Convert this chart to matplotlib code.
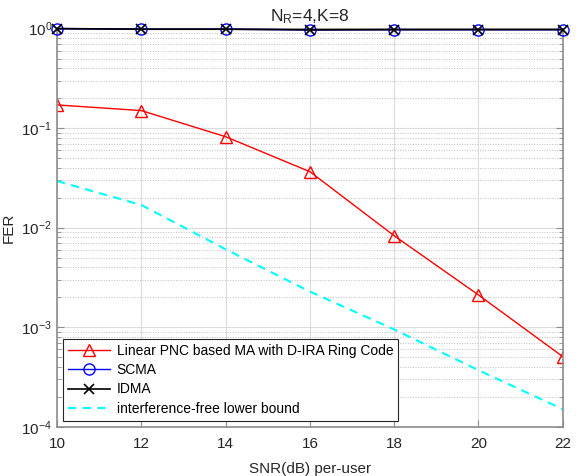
import matplotlib
matplotlib.use("Agg")
import matplotlib.pyplot as plt
from matplotlib.ticker import LogLocator, NullFormatter

plt.rcParams["font.family"] = ["Liberation Sans", "DejaVu Sans"]
plt.rcParams["mathtext.default"] = "regular"

# SNR per user (dB)
snr = [10, 12, 14, 16, 18, 20, 22]

# frame error rates
fer_pnc = [0.171, 0.150, 0.082, 0.0365, 0.0083, 0.00211, 0.000507]
fer_scma = [1.0, 0.985, 0.985, 0.97, 0.975, 0.975, 0.975]
fer_idma = [1.0, 0.985, 0.985, 0.97, 0.975, 0.975, 0.975]
fer_bound = [0.0294, 0.0169, 0.00607, 0.00228, 0.00095, 0.00037, 0.00015]

fig = plt.figure(figsize=(5.76, 4.76), dpi=100)
ax = fig.add_axes([0.099, 0.1034, 0.878, 0.8366])

ax.semilogy(snr, fer_pnc, color="red", marker="^", markersize=9, markerfacecolor="none",
            markeredgewidth=1.0, linewidth=1.0, label="Linear PNC based MA with D-IRA Ring Code")
ax.semilogy(snr, fer_scma, color="blue", marker="o", markersize=8, markerfacecolor="none",
            markeredgewidth=1.0, linewidth=1.0, label="SCMA", clip_on=False, zorder=5)
ax.semilogy(snr, fer_idma, color="black", marker="x", markersize=7,
            markeredgewidth=1.2, linewidth=1.2, label="IDMA", clip_on=False, zorder=6)
ax.semilogy(snr, fer_bound, color="cyan", linestyle="--", linewidth=1.5,
            dashes=(4, 3), label="interference-free lower bound")

ax.set_xlim(10, 22)
ax.set_ylim(1e-4, 1)
ax.set_xticks(snr)
ax.yaxis.set_major_locator(LogLocator(base=10, numticks=10))
ax.yaxis.set_minor_locator(LogLocator(base=10, subs=range(2, 10), numticks=20))
ax.yaxis.set_minor_formatter(NullFormatter())

ax.grid(True, which="major", color="#dcdcdc", linewidth=0.8, linestyle="-")
ax.grid(True, which="minor", axis="y", color="#bdbdbd", linewidth=0.7, linestyle=":")
ax.set_axisbelow(True)

for sp in ax.spines.values():
    sp.set_color("#8c8c8c")
    sp.set_linewidth(1.2)
ax.tick_params(which="both", direction="in", colors="#8c8c8c", labelcolor="#262626",
               labelsize=11, top=False, right=True)
ax.tick_params(which="major", length=5)
ax.tick_params(which="minor", length=3)
ax.tick_params(axis="x", pad=7)

ax.set_xlabel("SNR(dB) per-user", fontsize=11, color="#262626", labelpad=8)
ax.set_ylabel("FER", fontsize=11, color="#262626")
ax.set_title(r"$N_R$=4,K=8", fontsize=12.5, color="#262626", pad=5)

leg = ax.legend(loc="lower left", fontsize=10, handlelength=3.0, borderaxespad=0.45,
                fancybox=False, framealpha=1, edgecolor="#262626",
                borderpad=0.35, labelspacing=0.38, handletextpad=0.5)
leg.get_frame().set_linewidth(0.8)

fig.savefig("out.png", dpi=100)
